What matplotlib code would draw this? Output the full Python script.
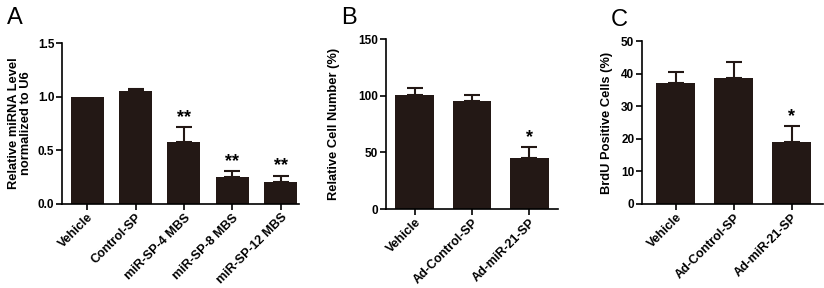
import matplotlib
matplotlib.use("Agg")
import matplotlib.pyplot as plt

plt.rcParams['font.family'] = ['Liberation Sans', 'DejaVu Sans']
plt.rcParams['font.weight'] = 'bold'

# Panel A
cats_a = ["Vehicle", "Control-SP", "miR-SP-4 MBS", "miR-SP-8 MBS", "miR-SP-12 MBS"]
vals_a = [1.0, 1.05, 0.58, 0.255, 0.205]
errs_a = [0.0, 0.022, 0.14, 0.052, 0.06]
sig_a = ["", "", "**", "**", "**"]
yt_a = [0.0, 0.5, 1.0, 1.5]

# Panel B
cats_b = ["Vehicle", "Ad-Control-SP", "Ad-miR-21-SP"]
vals_b = [101, 95, 45]
errs_b = [6, 6, 10]
sig_b = ["", "", "*"]
yt_b = [0, 50, 100, 150]

# Panel C
cats_c = ["Vehicle", "Ad-Control-SP", "Ad-miR-21-SP"]
vals_c = [37.2, 38.6, 19.0]
errs_c = [3.2, 5.1, 5.0]
sig_c = ["", "", "*"]
yt_c = [0, 10, 20, 30, 40, 50]

BAR = '#231815'
W, H = 824, 288
fig = plt.figure(figsize=(W/100, H/100), dpi=100)

def ax_at(l, t, r, b):
    return fig.add_axes([l/W, 1-b/H, (r-l)/W, (b-t)/H])

def panel(ax, cats, vals, errs, sig, yt, ylim, xlim, ylabel, fmt, star_off, lpad):
    x = list(range(len(cats)))
    ax.bar(x, vals, width=0.68, color=BAR, zorder=2)
    for xi, v, e in zip(x, vals, errs):
        if e > 0:
            ax.errorbar([xi], [v], yerr=[[0], [e]], fmt='none', ecolor=BAR,
                        elinewidth=1.5, capsize=5.5, capthick=1.5, zorder=3)
    for xi, v, e, s in zip(x, vals, errs, sig):
        if s:
            ax.text(xi, v + e + star_off, s, ha='center', va='bottom',
                    fontsize=13, fontweight='bold', color='black')
    ax.set_ylim(*ylim)
    ax.set_xlim(*xlim)
    ax.set_yticks(yt)
    ax.set_yticklabels([fmt.format(t) for t in yt], fontsize=8.5, fontweight='bold')
    ax.set_xticks(x)
    ax.set_xticklabels(cats, rotation=45, ha='right', rotation_mode='anchor',
                       fontsize=9, fontweight='bold')
    ax.set_ylabel(ylabel, fontsize=9.3, fontweight='bold', linespacing=1.0,
                  labelpad=lpad)
    for s in ['top', 'right']:
        ax.spines[s].set_visible(False)
    for s in ['left', 'bottom']:
        ax.spines[s].set_linewidth(1.2)
    ax.tick_params(axis='both', direction='out', length=4, width=1.2, pad=1.5)

axA = ax_at(62, 43, 299, 204)
panel(axA, cats_a, vals_a, errs_a, sig_a, yt_a, (0, 1.5), (-0.52, 4.38),
      "Relative miRNA Level\nnormalized to U6", "{:.1f}", 0.01, 4)
axB = ax_at(386, 39, 558, 209)
panel(axB, cats_b, vals_b, errs_b, sig_b, yt_b, (0, 150), (-0.5, 2.5),
      "Relative Cell Number (%)", "{:d}", 0.5, 13)
axC = ax_at(642, 41, 823, 204)
panel(axC, cats_c, vals_c, errs_c, sig_c, yt_c, (0, 50), (-0.58, 2.54),
      "BrdU Positive Cells (%)", "{:d}", 0.2, 6)

for lab, px, py in [("A", 7, 18), ("B", 341, 18), ("C", 611, 20)]:
    fig.text(px/W, 1-py/H, lab, fontsize=17, fontweight='normal', va='center', ha='left')

fig.savefig("out.png", dpi=100)
